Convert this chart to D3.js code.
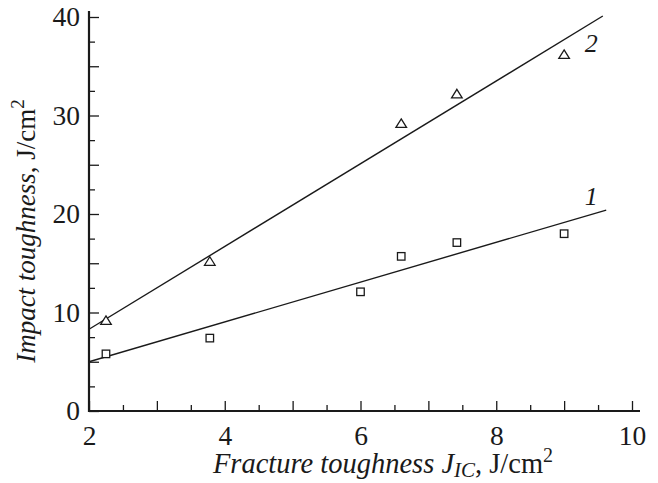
<!DOCTYPE html>
<html>
<head>
<meta charset="utf-8">
<script src="https://cdn.jsdelivr.net/npm/d3@7"></script>
<style>
  body { margin: 0; background: #fff; }
  svg { display: block; }
</style>
</head>
<body>
<svg id="chart" width="658" height="483"></svg>
<script>
// Series 1 (squares): impact toughness vs fracture toughness
const jic1 = [2.25, 3.78, 6.0, 6.6, 7.42, 9.0];
const impact1 = [5.8, 7.4, 12.1, 15.7, 17.1, 18.0];
// Series 2 (triangles)
const jic2 = [2.25, 3.78, 6.6, 7.42, 9.0];
const impact2 = [9.2, 15.2, 29.2, 32.2, 36.2];
// Straight-line fits, endpoints
const fit1X = [2, 9.62], fit1Y = [5.0, 20.4];
const fit2X = [2, 9.57], fit2Y = [8.3, 40.1];
// Curve numbers
const curveNames = ["1", "2"];
const curveLabelX = [9.4, 9.4];
const curveLabelY = [20.9, 36.4];
// Ticks
const xMajorTicks = [2, 3, 4, 5, 6, 7, 8, 9, 10];
const xMinorTicks = [2.5, 3.5, 4.5, 5.5, 6.5, 7.5, 8.5, 9.5];
const xTickLabels = [2, 4, 6, 8, 10];
const yMajorTicks = [0, 5, 10, 15, 20, 25, 30, 35, 40];
const yMinorTicks = [2.5, 7.5, 12.5, 17.5, 22.5, 27.5, 32.5, 37.5];
const yTickLabels = [0, 10, 20, 30, 40];

const FONT = "'Liberation Serif', 'Times New Roman', serif";
const svg = d3.select("#chart");
const x = d3.scaleLinear().domain([2, 10]).range([89, 632]);
const y = d3.scaleLinear().domain([0, 40]).range([411, 17]);
const ink = "#1a1a1a";

// axis lines, running a little past the last ticks
svg.append("line").attr("x1", x(2)).attr("x2", x(10) + 8)
  .attr("y1", y(0)).attr("y2", y(0)).attr("stroke", ink).attr("stroke-width", 2.2);
svg.append("line").attr("x1", x(2)).attr("x2", x(2))
  .attr("y1", y(0) + 1).attr("y2", y(40) - 6).attr("stroke", ink).attr("stroke-width", 2.2);

function styleAxis(g) {
  g.attr("font-family", null);
  g.select(".domain").remove();
  g.selectAll("line").attr("stroke", ink).attr("stroke-width", 1.3);
  g.selectAll("text").style("font-family", FONT).style("font-size", "27.5px").attr("fill", ink);
}

// x axis ticks (pointing inward)
svg.append("g").attr("transform", `translate(0,${y(0)})`)
  .call(d3.axisBottom(x).tickValues(xMajorTicks).tickSize(-10)
    .tickFormat(d => xTickLabels.includes(d) ? d : ""))
  .call(styleAxis)
  .call(g => g.selectAll("text").attr("y", 34).attr("dy", 0));
svg.append("g").attr("transform", `translate(0,${y(0)})`)
  .call(d3.axisBottom(x).tickValues(xMinorTicks).tickSize(-6).tickFormat(""))
  .call(styleAxis);

// y axis ticks
svg.append("g").attr("transform", `translate(${x(2)},0)`)
  .call(d3.axisLeft(y).tickValues(yMajorTicks).tickSize(-10).tickPadding(9)
    .tickFormat(d => yTickLabels.includes(d) ? d : ""))
  .call(styleAxis);
svg.append("g").attr("transform", `translate(${x(2)},0)`)
  .call(d3.axisLeft(y).tickValues(yMinorTicks).tickSize(-6).tickFormat(""))
  .call(styleAxis);

// fitted lines
const line = d3.line().x(d => x(d[0])).y(d => y(d[1]));
[[fit1X, fit1Y], [fit2X, fit2Y]].forEach(([fx, fy]) => {
  svg.append("path").attr("d", line(d3.zip(fx, fy)))
    .attr("fill", "none").attr("stroke", ink).attr("stroke-width", 1.4);
});

// square markers
const sq = 7.5;
svg.append("g").selectAll("rect").data(d3.zip(jic1, impact1)).join("rect")
  .attr("x", d => x(d[0]) - sq / 2).attr("y", d => y(d[1]) - sq / 2)
  .attr("width", sq).attr("height", sq)
  .attr("fill", "#fff").attr("stroke", ink).attr("stroke-width", 1.3);

// triangle markers
const tri = "M0,-4.5L5.3,4L-5.3,4Z";
svg.append("g").selectAll("path").data(d3.zip(jic2, impact2)).join("path")
  .attr("d", tri)
  .attr("transform", d => `translate(${x(d[0])},${y(d[1])})`)
  .attr("fill", "#fff").attr("stroke", ink).attr("stroke-width", 1.3);

// curve numbers
svg.append("g").selectAll("text").data(curveNames).join("text")
  .attr("x", (d, i) => x(curveLabelX[i])).attr("y", (d, i) => y(curveLabelY[i]))
  .attr("text-anchor", "middle").attr("fill", ink)
  .style("font-family", FONT).style("font-size", "26px").style("font-style", "italic")
  .text(d => d);

// y axis title
const yt = svg.append("text").attr("transform", "translate(35,231) rotate(-90)")
  .attr("text-anchor", "middle").attr("fill", ink)
  .style("font-family", FONT).style("font-size", "27px");
yt.append("tspan").style("font-style", "italic").text("Impact toughness");
yt.append("tspan").text(", J/cm");
yt.append("tspan").attr("dy", -11).style("font-size", "19px").text("2");

// x axis title
const xt = svg.append("text").attr("x", 383).attr("y", 473)
  .attr("text-anchor", "middle").attr("fill", ink)
  .style("font-family", FONT).style("font-size", "28.5px");
xt.append("tspan").style("font-style", "italic").text("Fracture toughness J");
xt.append("tspan").attr("dy", 4).style("font-style", "italic").style("font-size", "21px").text("IC");
xt.append("tspan").attr("dy", -4).text(", J/cm");
xt.append("tspan").attr("dy", -11).style("font-size", "20px").text("2");
</script>
</body>
</html>
